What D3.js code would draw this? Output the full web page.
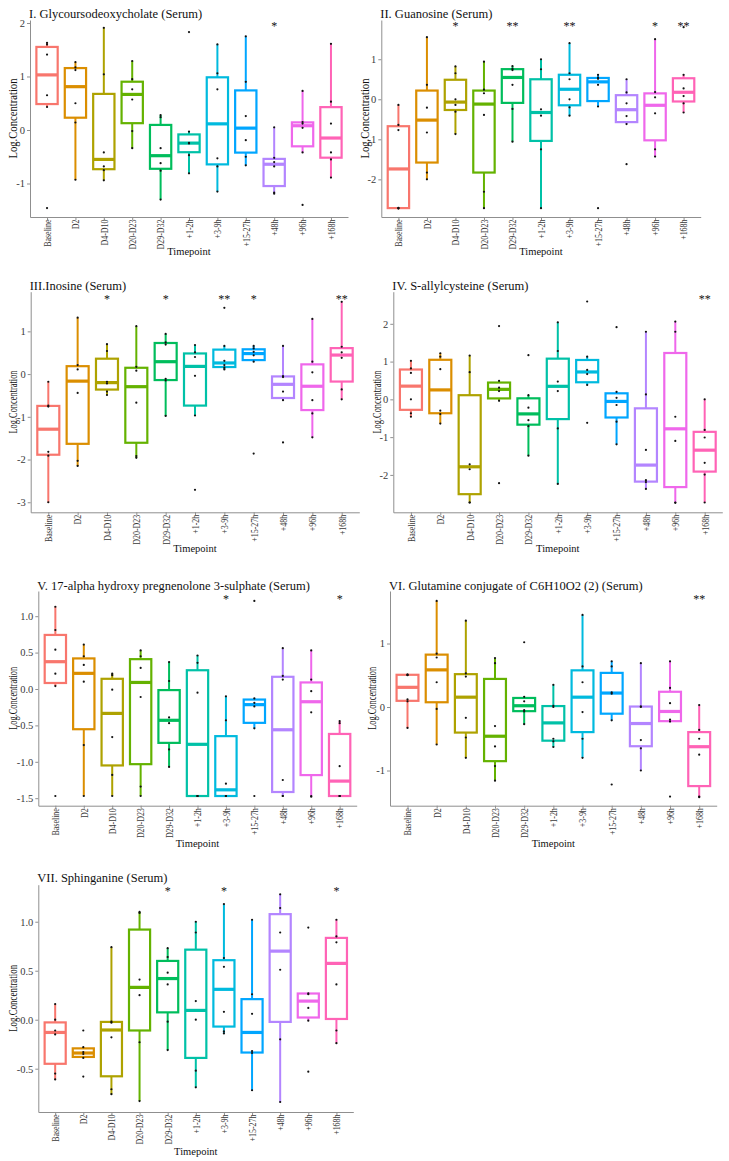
<!DOCTYPE html>
<html><head><meta charset="utf-8">
<script src="https://cdn.jsdelivr.net/npm/d3@7"></script>
<style>
body{margin:0;background:#fff}
svg{display:block}
text{font-family:"Liberation Serif","Times New Roman",serif}
</style>
</head><body>
<svg id="chart" width="729" height="1161"></svg>
<script>
// ---------------- DATA ----------------
const categories = ["Baseline","D2","D4-D10","D20-D23","D29-D32","+1-2h","+3-9h","+15-27h","+48h","+96h","+168h"];
const boxColors = ["#F8766D","#DB8E00","#AEA200","#64B200","#00BD5C","#00C1A7","#00BADE","#00A6FF","#B385FF","#EF67EB","#FF63B6"];

const titles = [
  "I. Glycoursodeoxycholate (Serum)",
  "II. Guanosine (Serum)",
  "III.Inosine (Serum)",
  "IV. S-allylcysteine (Serum)",
  "V. 17-alpha hydroxy pregnenolone 3-sulphate (Serum)",
  "VI. Glutamine conjugate of C6H10O2 (2) (Serum)",
  "VII. Sphinganine (Serum)"
];

// log concentrations, one list of observations per timepoint
const glycoursodeoxycholate = [
  [1.63,1.60,1.41,0.65,0.43,-1.46],
  [1.27,1.17,1.12,0.50,0.14,-0.93],
  [1.91,1.04,-0.42,-0.68,-0.75,-0.94],
  [1.29,0.95,0.76,0.57,-0.02,-0.34],
  [0.28,0.24,-0.34,-0.62,-0.76,-1.30],
  [1.83,-0.03,-0.24,-0.25,-0.47,-0.81],
  [1.60,1.06,0.76,-0.53,-0.68,-1.15],
  [1.75,0.90,0.26,-0.19,-0.50,-0.66],
  [0.05,-0.52,-0.60,-0.68,-1.17,-1.19],
  [0.73,0.15,0.12,0.04,-0.42,-1.40],
  [1.61,0.53,0.12,-0.42,-0.55,-0.89]
];
const guanosine = [
  [-2.73,-2.72,-2.71,-0.77,-0.64,-0.14],
  [-2.00,-1.83,-0.83,-0.21,0.36,1.55],
  [-0.87,-0.31,-0.14,0.00,0.65,0.82],
  [-2.72,-2.31,-0.39,0.15,0.24,0.94],
  [-1.06,-0.24,0.36,0.73,0.76,0.83],
  [-2.72,-1.25,-0.41,-0.25,0.75,1.00],
  [-0.41,-0.20,0.00,0.50,0.65,1.40],
  [-2.72,-0.18,0.36,0.51,0.54,0.61],
  [-1.62,-0.62,-0.42,-0.10,0.17,0.50],
  [-1.43,-1.25,-0.35,0.05,0.18,1.50],
  [-0.33,-0.10,0.08,0.27,0.61,1.80]
];
const inosine = [
  [-3.00,-1.91,-1.82,-0.76,-0.74,-0.18],
  [-2.15,-2.03,-0.44,0.11,0.21,1.32],
  [-0.49,-0.41,-0.22,-0.18,0.54,0.70],
  [-1.96,-1.92,-0.67,0.08,0.17,1.12],
  [-0.98,-0.15,-0.11,0.69,0.74,0.94],
  [-2.71,-0.97,-0.04,0.40,0.51,0.68],
  [0.11,0.15,0.21,0.31,0.66,1.55],
  [-1.86,0.29,0.44,0.52,0.60,0.66],
  [-1.60,-0.61,-0.41,-0.07,-0.05,0.66],
  [-1.48,-0.92,-0.61,0.04,0.29,1.29],
  [-0.59,-0.36,0.38,0.51,0.64,1.69]
];
const sAllylcysteine = [
  [-0.46,-0.37,0.00,0.70,0.82,1.02],
  [-0.64,-0.39,-0.30,0.80,1.13,1.22],
  [-2.73,-2.73,-1.85,-1.72,0.72,1.16],
  [-2.22,-0.04,0.22,0.31,0.49,1.94],
  [-1.49,-0.71,-0.55,-0.22,0.11,1.17],
  [-2.24,-0.77,0.22,0.47,1.28,2.04],
  [-0.62,0.38,0.67,0.78,1.13,2.59],
  [-1.19,-0.59,-0.15,0.04,0.20,1.91],
  [-2.37,-2.19,-2.14,-1.34,0.13,1.79],
  [-2.74,-2.73,-1.10,-0.46,1.79,2.06],
  [-2.73,-1.99,-1.68,-1.01,-0.81,0.00]
];
const hydroxyPregnenoloneSulphate = [
  [-1.47,0.04,0.21,0.54,0.81,1.13],
  [-1.47,-0.77,0.10,0.33,0.45,0.61],
  [-1.47,-1.18,-0.66,-0.01,0.19,0.21],
  [-1.47,-1.34,-0.11,0.29,0.45,0.53],
  [-1.07,-0.83,-0.47,-0.39,0.11,0.37],
  [-1.47,-1.47,-1.47,-0.05,0.36,0.46],
  [-1.47,-1.47,-1.47,-1.30,-0.43,-0.10],
  [-1.47,-0.54,-0.24,-0.19,-0.13,1.21],
  [-1.47,-1.47,-1.25,0.13,0.18,0.56],
  [-1.48,-1.47,-0.32,-0.03,0.13,0.53],
  [-1.47,-1.47,-1.47,-1.06,-0.47,-0.44]
];
const glutamineConjugate = [
  [-0.33,0.09,0.12,0.50,0.51,0.51],
  [-0.59,-0.03,0.39,0.78,0.84,1.67],
  [-0.80,-0.48,-0.17,0.48,0.53,1.36],
  [-1.16,-0.93,-0.62,-0.30,0.69,0.77],
  [-0.27,-0.07,-0.05,0.09,0.16,1.02],
  [-0.63,-0.54,-0.50,0.00,0.02,0.35],
  [-0.80,-0.50,-0.08,0.39,0.64,1.45],
  [-1.22,-0.21,0.21,0.23,0.64,0.72],
  [-1.00,-0.65,-0.52,0.00,0.01,0.69],
  [-1.41,-0.23,-0.20,0.06,0.30,0.72],
  [-1.42,-1.41,-0.75,-0.50,-0.36,0.03]
];
const sphinganine = [
  [-0.61,-0.55,-0.15,-0.11,0.00,0.16],
  [-0.58,-0.39,-0.35,-0.33,-0.28,-0.11],
  [-0.76,-0.71,-0.18,-0.03,-0.02,0.74],
  [-0.83,-0.23,0.25,0.41,1.09,1.10],
  [-0.31,-0.02,0.36,0.48,0.64,0.73],
  [-0.69,-0.52,0.00,0.19,0.89,1.00],
  [-0.14,-0.12,0.08,0.54,0.63,1.18],
  [-0.72,-0.34,-0.32,0.06,0.26,1.02],
  [-0.84,-0.20,0.51,0.89,1.14,1.28],
  [-0.53,-0.01,0.12,0.26,0.27,0.94],
  [-0.24,-0.11,0.36,0.79,0.85,1.02]
];

// significance marks per timepoint
const starsI   = ["","","","","","","","","*","",""];
const starsII  = ["","","*","","**","","**","","","*","**"];
const starsIII = ["","","*","","*","","**","*","","","**"];
const starsIV  = ["","","","","","","","","","","**"];
const starsV   = ["","","","","","","*","","","","*"];
const starsVI  = ["","","","","","","","","","","**"];
const starsVII = ["","","","","*","","*","","","","*"];

// y tick values
const ticksI   = [-1,0,1,2];
const ticksII  = [-2,-1,0,1];
const ticksIII = [-3,-2,-1,0,1];
const ticksIV  = [-2,-1,0,1,2];
const ticksV   = [-1.5,-1.0,-0.5,0.0,0.5,1.0];
const ticksVI  = [-1,0,1];
const ticksVII = [-0.5,0.0,0.5,1.0];

const yLabel = "Log.Concentration";
const xLabel = "Timepoint";

// ---------------- LAYOUT ----------------
const intFmt = d => String(d);
const decFmt = d => d.toFixed(1);
const panels = [
  {title:titles[0], data:glycoursodeoxycholate, stars:starsI, ticks:ticksI, fmt:intFmt,
   left:30, right:348, top:20, bottom:217, yMin:-1.626, yMax:2.056, titleY:17.5, ylabX:12.5, ylabLen:80, xlabDy:38, starDy:9.5},
  {title:titles[1], data:guanosine, stars:starsII, ticks:ticksII, fmt:intFmt,
   left:381.3, right:700.7, top:20, bottom:217, yMin:-2.94, yMax:1.98, titleY:17.5, ylabX:365, ylabLen:80, xlabDy:38, starDy:10},
  {title:titles[2], data:inosine, stars:starsIII, ticks:ticksIII, fmt:intFmt,
   left:30.7, right:359.3, top:291.7, bottom:512.3, yMin:-3.235, yMax:1.928, titleY:289.5, ylabX:12.5, ylabLen:63, xlabDy:40, starDy:11.5},
  {title:titles[3], data:sAllylcysteine, stars:starsIV, ticks:ticksIV, fmt:intFmt,
   left:393.3, right:722.3, top:291.7, bottom:512.3, yMin:-2.99, yMax:2.85, titleY:289.5, ylabX:376.5, ylabLen:63, xlabDy:40, starDy:11.5},
  {title:titles[4], data:hydroxyPregnenoloneSulphate, stars:starsV, ticks:ticksV, fmt:decFmt,
   left:38.3, right:356.7, top:591, bottom:805.7, yMin:-1.603, yMax:1.346, titleY:589.5, ylabX:13, ylabLen:63, xlabDy:41, starDy:11.5},
  {title:titles[5], data:glutamineConjugate, stars:starsVI, ticks:ticksVI, fmt:intFmt,
   left:390, right:716.7, top:591, bottom:805.7, yMin:-1.554, yMax:1.827, titleY:589.5, ylabX:372, ylabLen:63, xlabDy:41, starDy:11.5},
  {title:titles[6], data:sphinganine, stars:starsVII, ticks:ticksVII, fmt:decFmt,
   left:38.3, right:353.3, top:884.7, bottom:1112, yMin:-0.942, yMax:1.378, titleY:881.5, ylabX:13, ylabLen:67, xlabDy:43, starDy:10.5}
];

const svg = d3.select("#chart");
svg.append("rect").attr("width",729).attr("height",1161).attr("fill","#fff");

function boxStats(vals){
  const s = vals.slice().sort(d3.ascending);
  const q1 = d3.quantileSorted(s,0.25), med = d3.quantileSorted(s,0.5), q3 = d3.quantileSorted(s,0.75);
  const iqr = q3 - q1;
  const lo = d3.min(s.filter(v => v >= q1 - 1.5*iqr));
  const hi = d3.max(s.filter(v => v <= q3 + 1.5*iqr));
  return {q1, med, q3, lo, hi};
}

const axisColor = "#8f8f8f";
const tickTextColor = "#3a3a3a";
const xScaleText = 0.72;

panels.forEach(p => {
  const g = svg.append("g");
  const x = d3.scalePoint().domain(categories).range([p.left, p.right]).padding(0.6);
  const bw = x.step() * 0.75;
  const y = d3.scaleLinear().domain([p.yMin, p.yMax]).range([p.bottom, p.top]);

  // Y axis
  const ya = g.append("g").attr("transform", `translate(${p.left},0)`)
    .call(d3.axisLeft(y).tickValues(p.ticks).tickFormat(p.fmt).tickSize(3).tickSizeOuter(0).tickPadding(2));
  ya.select(".domain").attr("stroke", axisColor);
  ya.selectAll(".tick line").attr("stroke", axisColor);
  ya.selectAll(".tick text").attr("fill", tickTextColor).style("font-family", '"Liberation Serif", serif').style("font-size","10.5px");

  // X axis
  const xa = g.append("g").attr("transform", `translate(0,${p.bottom})`)
    .call(d3.axisBottom(x).tickSize(3).tickSizeOuter(0).tickFormat(""));
  xa.select(".domain").attr("stroke", axisColor);
  xa.selectAll(".tick line").attr("stroke", axisColor);

  // X tick labels (rotated, condensed)
  g.selectAll("text.xtick").data(categories).join("text")
    .attr("class","xtick")
    .attr("transform", d => `translate(${x(d)},${p.bottom + 2.5}) rotate(-90) scale(${xScaleText},1)`)
    .attr("text-anchor","end")
    .attr("dy","0.35em")
    .attr("fill", tickTextColor)
    .style("font-size","11px")
    .text(d => d);

  // axis titles
  g.append("text")
    .attr("x", (p.left + p.right)/2).attr("y", p.bottom + p.xlabDy)
    .attr("text-anchor","middle").style("font-size","10.5px").attr("fill","#111")
    .text(xLabel);
  g.append("text")
    .attr("transform", `translate(${p.ylabX},${(p.top + p.bottom)/2}) rotate(-90)`)
    .attr("text-anchor","middle").attr("dy","0.35em")
    .attr("textLength", p.ylabLen).attr("lengthAdjust","spacingAndGlyphs")
    .style("font-size","12px").attr("fill","#111")
    .text(yLabel);

  // title
  g.append("text").attr("x", p.left - 1).attr("y", p.titleY)
    .style("font-size","12.5px").attr("fill","#111").text(p.title);

  // boxplots
  const stats = p.data.map(boxStats);
  const bg = g.append("g");
  categories.forEach((c, i) => {
    const s = stats[i], cx = x(c), col = boxColors[i];
    bg.append("line").attr("x1",cx).attr("x2",cx).attr("y1",y(s.q3)).attr("y2",y(s.hi))
      .attr("stroke",col).attr("stroke-width",2);
    bg.append("line").attr("x1",cx).attr("x2",cx).attr("y1",y(s.q1)).attr("y2",y(s.lo))
      .attr("stroke",col).attr("stroke-width",2);
    bg.append("rect").attr("x",cx - bw/2).attr("width",bw)
      .attr("y",y(s.q3)).attr("height",Math.max(0.5, y(s.q1) - y(s.q3)))
      .attr("fill","#fff").attr("stroke",col).attr("stroke-width",2.2);
    bg.append("line").attr("x1",cx - bw/2).attr("x2",cx + bw/2).attr("y1",y(s.med)).attr("y2",y(s.med))
      .attr("stroke",col).attr("stroke-width",3.2);
  });

  // observations
  const pts = [];
  p.data.forEach((vals, i) => vals.forEach(v => pts.push({c:categories[i], v})));
  g.selectAll("circle.pt").data(pts).join("circle").attr("class","pt")
    .attr("cx", d => x(d.c)).attr("cy", d => y(d.v)).attr("r", 1.1).attr("fill","#111");

  // significance marks
  g.selectAll("text.star").data(categories.map((c,i)=>({c, s:p.stars[i]})).filter(d => d.s))
    .join("text").attr("class","star")
    .attr("x", d => x(d.c)).attr("y", p.top + p.starDy)
    .attr("text-anchor","middle").style("font-size","12px").attr("fill","#111")
    .text(d => d.s);
});
</script>
</body></html>
